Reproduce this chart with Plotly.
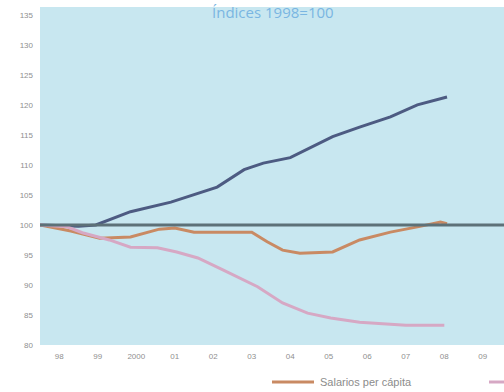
import plotly.graph_objects as go

# Data (index 1998=100)
blue_x = [1998.0, 1999.0, 1999.45, 2000.35, 2001.4, 2002.1, 2002.6, 2003.3, 2003.8, 2004.5, 2005.0, 2005.6, 2006.3, 2007.1, 2007.8, 2008.57]
blue_y = [100.0, 99.8, 100.0, 102.2, 103.8, 105.3, 106.3, 109.2, 110.3, 111.2, 112.8, 114.7, 116.3, 118.0, 120.0, 121.3]

orange_x = [1998.0, 1998.8, 1999.55, 2000.35, 2001.1, 2001.5, 2002.0, 2002.9, 2003.5, 2003.9, 2004.3, 2004.75, 2005.6, 2006.3, 2007.1, 2007.9, 2008.4, 2008.57]
orange_y = [100.0, 99.0, 97.8, 98.0, 99.3, 99.5, 98.8, 98.8, 98.8, 97.2, 95.8, 95.3, 95.5, 97.5, 98.8, 99.8, 100.5, 100.2]

pink_x = [1998.0, 1998.7, 1999.1, 1999.8, 2000.35, 2001.05, 2001.55, 2002.1, 2002.75, 2003.65, 2004.3, 2004.95, 2005.55, 2006.3, 2007.5, 2008.5]
pink_y = [100.0, 99.7, 98.7, 97.5, 96.3, 96.2, 95.5, 94.5, 92.5, 89.7, 87.0, 85.3, 84.5, 83.8, 83.3, 83.3]

x_tickvals = [1998.5 + i for i in range(12)]
x_ticktext = ["98", "99", "2000", "01", "02", "03", "04", "05", "06", "07", "08", "09"]
y_tickvals = [80, 85, 90, 95, 100, 105, 110, 115, 120, 125, 130, 135]

BLUE, ORANGE, PINK = "#4d5b82", "#c98a63", "#d6a8c4"

fig = go.Figure()
fig.add_trace(go.Scatter(x=blue_x, y=blue_y, mode="lines", name="PIB per cápita",
                         line=dict(color=BLUE, width=3), showlegend=False))
fig.add_trace(go.Scatter(x=orange_x, y=orange_y, mode="lines", name="Salarios per cápita",
                         line=dict(color=ORANGE, width=3), showlegend=False))
fig.add_trace(go.Scatter(x=pink_x, y=pink_y, mode="lines", name="Horas per cápita",
                         line=dict(color=PINK, width=3), showlegend=False))

fig.add_shape(type="line", xref="paper", x0=0, x1=1, yref="y", y0=100, y1=100,
              line=dict(color="#5d7178", width=3), layer="above")


def px_x(px):
    return (px - 40) / 464


def px_y(py):
    return (345 - py) / 338


# Manual legend (bottom, partially outside the page on the right like the reference)
fig.add_shape(type="line", xref="paper", yref="paper", x0=px_x(272), x1=px_x(314),
              y0=px_y(382), y1=px_y(382), line=dict(color=ORANGE, width=3))
fig.add_annotation(text="Salarios per cápita", xref="paper", yref="paper",
                   x=px_x(318), y=px_y(382), xanchor="left", yanchor="middle",
                   showarrow=False, font=dict(color="#8c8c8c", size=11))
fig.add_shape(type="line", xref="paper", yref="paper", x0=px_x(489), x1=px_x(504),
              y0=px_y(382), y1=px_y(382), line=dict(color=PINK, width=3))

fig.add_annotation(text="Índices 1998=100", xref="paper", yref="paper",
                   x=px_x(273), y=px_y(0), yanchor="top", xanchor="center",
                   showarrow=False,
                   font=dict(color="#7ab6e2", size=15, family="Open Sans"))

fig.update_layout(
    width=504, height=392,
    margin=dict(l=40, r=0, t=7, b=47),
    paper_bgcolor="white",
    plot_bgcolor="#c8e7f0",
    showlegend=False,
    font=dict(family="Liberation Sans, Arial", color="#9a9a9a", size=8),
    xaxis=dict(range=[1998.0, 2010.05], tickvals=x_tickvals, ticktext=x_ticktext,
               showgrid=False, zeroline=False, showline=False, ticks="",
               ticklabelstandoff=5, automargin=False,
               tickfont=dict(color="#8f8f8f", size=8)),
    yaxis=dict(range=[80.0, 136.3], tickvals=y_tickvals, showgrid=False,
               zeroline=False, showline=False, ticks="", ticklabelstandoff=6,
               automargin=False, tickfont=dict(color="#8f8f8f", size=8)),
)

fig.write_html("out.html")
